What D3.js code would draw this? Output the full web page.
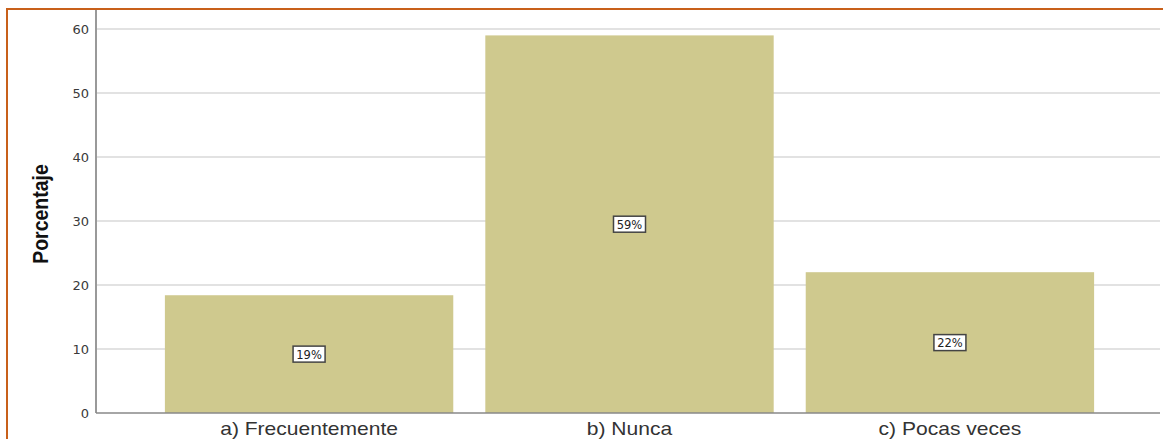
<!DOCTYPE html>
<html>
<head>
<meta charset="utf-8">
<script src="https://d3js.org/d3.v7.min.js"></script>
<style>
  body { margin: 0; background: #fff; }
  svg { display: block; }
</style>
</head>
<body>
<div id="chart"></div>
<script>
  // data
  var categories = ["a) Frecuentemente", "b) Nunca", "c) Pocas veces"];
  var percents = [18.4, 59.0, 22.0];
  var labels = ["19%", "59%", "22%"];
  var yTicks = [0, 10, 20, 30, 40, 50, 60];

  var W = 1163, H = 439;

  var svg = d3.select("#chart").append("svg")
    .attr("width", W)
    .attr("height", H);

  // orange frame (top + left)
  svg.append("path")
    .attr("d", "M7," + H + "V9H" + W)
    .attr("fill", "none")
    .attr("stroke", "#c8601a")
    .attr("stroke-width", 2);

  var x = d3.scaleBand()
    .domain(categories)
    .range([96, 1163])
    .paddingInner(0.1)
    .paddingOuter(0.215);

  var y = d3.scaleLinear()
    .domain([0, 60])
    .range([413, 29]);

  // grid lines
  svg.append("g").selectAll("line")
    .data(yTicks.filter(function (d) { return d > 0; }))
    .enter().append("line")
    .attr("x1", 96).attr("x2", 1160)
    .attr("y1", function (d) { return y(d); })
    .attr("y2", function (d) { return y(d); })
    .attr("stroke", "#d9d9d9")
    .attr("stroke-width", 1.5);

  // bars
  svg.selectAll(".bar")
    .data(percents)
    .enter().append("rect")
    .attr("class", "bar")
    .attr("x", function (d, i) { return x(categories[i]); })
    .attr("width", x.bandwidth())
    .attr("y", function (d) { return y(d); })
    .attr("height", function (d) { return y(0) - y(d); })
    .attr("fill", "#cfc98e");

  // y axis
  var yAxis = svg.append("g")
    .attr("transform", "translate(96,0)")
    .call(d3.axisLeft(y).tickValues(yTicks).tickSize(0).tickPadding(7));
  yAxis.select(".domain").attr("stroke", "#999").attr("stroke-width", 2)
    .attr("d", "M0,10V413");
  yAxis.selectAll("text")
    .attr("font-family", "DejaVu Sans, sans-serif")
    .attr("font-size", 13)
    .attr("fill", "#3a3a3a");

  // x axis
  var xAxis = svg.append("g")
    .attr("transform", "translate(0,413)")
    .call(d3.axisBottom(x).tickSize(0).tickPadding(9));
  xAxis.select(".domain").attr("stroke", "#888").attr("stroke-width", 1.5)
    .attr("d", "M96,0H1160");
  xAxis.selectAll("text")
    .attr("font-family", "Liberation Sans, Arial, sans-serif")
    .attr("font-size", 18)
    .attr("transform", "scale(1.17,1)")
    .attr("fill", "#333");

  // y label
  svg.append("text")
    .attr("transform", "translate(48,214) scale(1.15,1) rotate(-90)")
    .attr("text-anchor", "middle")
    .attr("font-family", "Liberation Sans, Arial, sans-serif")
    .attr("font-weight", "bold")
    .attr("font-size", 19.5)
    .attr("fill", "#111")
    .text("Porcentaje");

  // value boxes
  var boxes = svg.selectAll(".vlab")
    .data(percents)
    .enter().append("g")
    .attr("class", "vlab")
    .attr("transform", function (d, i) {
      return "translate(" + (x(categories[i]) + x.bandwidth() / 2) + "," + y(d / 2) + ")";
    });
  boxes.append("rect")
    .attr("x", -16).attr("y", -8)
    .attr("width", 32).attr("height", 16)
    .attr("fill", "#fff")
    .attr("stroke", "#444")
    .attr("stroke-width", 1.5);
  boxes.append("text")
    .attr("text-anchor", "middle")
    .attr("dy", "0.35em")
    .attr("y", 0.5)
    .attr("font-family", "DejaVu Sans, sans-serif")
    .attr("font-size", 11.5)
    .attr("fill", "#222")
    .text(function (d, i) { return labels[i]; });
</script>
</body>
</html>
